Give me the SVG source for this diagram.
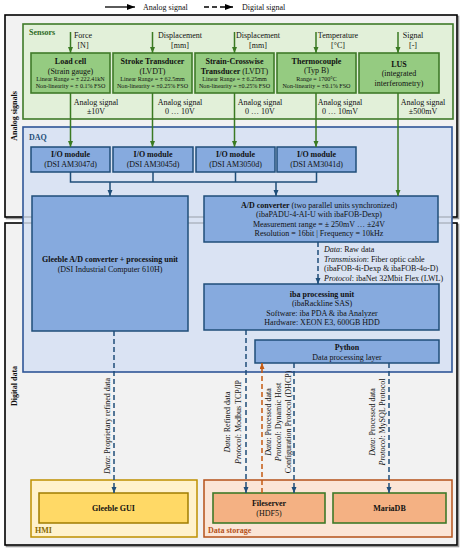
<svg xmlns="http://www.w3.org/2000/svg" width="462" height="550" viewBox="0 0 462 550">
<style>
text{font-family:"Liberation Serif","Times New Roman",serif;font-size:8px;fill:#111}
.c{text-anchor:middle}
.b{font-weight:bold}
.s{font-size:6.1px}
.i{font-style:italic}
.frame{fill:#f2f2f2;stroke:#000;stroke-width:1.6}
.shadow{fill:none;stroke:#9a9a9a;stroke-width:1.6}
.sens{fill:#95cb81;stroke:#3f7a28;stroke-width:1.6}
.blue{fill:#86aade;stroke:#1f4e79;stroke-width:1.5}
.g{stroke:#3a7a22;stroke-width:1.5;fill:none}
.bl{stroke:#1f4e79;stroke-width:1.5;fill:none}
.d{stroke-dasharray:5,3}
.or{stroke:#c55a11;stroke-width:1.5;fill:none;stroke-dasharray:5,3}
</style>
<defs>
<marker id="ag" markerUnits="userSpaceOnUse" markerWidth="6" markerHeight="6" refX="6" refY="2.5" orient="auto"><path d="M0,0 L6,2.5 L0,5 z" fill="#3a7a22"/></marker>
<marker id="ab" markerUnits="userSpaceOnUse" markerWidth="6" markerHeight="6" refX="6" refY="2.5" orient="auto"><path d="M0,0 L6,2.5 L0,5 z" fill="#1f4e79"/></marker>
<marker id="ao" markerUnits="userSpaceOnUse" markerWidth="6" markerHeight="6" refX="6" refY="2.5" orient="auto"><path d="M0,0 L6,2.5 L0,5 z" fill="#c55a11"/></marker>
<marker id="ak" markerUnits="userSpaceOnUse" markerWidth="8" markerHeight="6" refX="8" refY="3" orient="auto"><path d="M0,0 L8,3 L0,6 z" fill="#000"/></marker>
</defs>
<rect width="462" height="550" fill="#fff"/>

<g id="legend">
<line x1="105" y1="7" x2="135" y2="7" stroke="#000" stroke-width="1.3" marker-end="url(#ak)"/>
<text x="143" y="10">Analog signal</text>
<line x1="204" y1="7" x2="233" y2="7" stroke="#000" stroke-width="1.3" stroke-dasharray="5,3" marker-end="url(#ak)"/>
<text x="242" y="10">Digital signal</text>
</g>

<g id="frame-analog">
<rect x="6.5" y="16.5" width="452" height="202" class="shadow"/>
<rect x="5" y="15" width="452" height="202" class="frame"/>
<text class="c b" transform="translate(17,116) rotate(-90)">Analog signals</text>
</g>
<g id="frame-digital">
<rect x="6.5" y="224.5" width="452" height="322" class="shadow"/>
<rect x="5" y="223" width="452" height="322" class="frame"/>
<text class="c b" transform="translate(17,386) rotate(-90)">Digital data</text>
</g>

<g id="sensors">
<rect x="23" y="24" width="430" height="95" fill="#e2f0d9" stroke="#3f7a28" stroke-width="1.6"/>
<text x="29" y="35" class="b" style="fill:#2e6b1f">Sensors</text>
</g>

<g id="daq">
<rect x="23" y="127" width="429" height="245" fill="#dae3f3" stroke="#2f5597" stroke-width="1.6"/>
<path d="M23.8,217 H451.2 M23.8,223 H451.2" stroke="#aeb6c2" stroke-width="1.4" fill="none"/>
<text x="29" y="140" class="b" style="fill:#1f4e79">DAQ</text>
</g>

<g id="load-cell">
<rect x="31" y="53" width="79" height="40" class="sens"/>
<text x="70.5" y="63.5" class="c b">Load cell</text>
<text x="70.5" y="73.5" class="c">(Strain gauge)</text>
<text x="70.5" y="81" class="c s">Linear Range = ± 222.41kN</text>
<text x="70.5" y="88" class="c s">Non-linearity = ± 0.1% FSO</text>
</g>
<g id="stroke-transducer">
<rect x="113" y="53" width="79" height="40" class="sens"/>
<text x="152.5" y="63.5" class="c b">Stroke Transducer</text>
<text x="152.5" y="73.5" class="c">(LVDT)</text>
<text x="152.5" y="81" class="c s">Linear Range = ± 62.5mm</text>
<text x="152.5" y="88" class="c s">Non-linearity = ±0.25% FSO</text>
</g>
<g id="strain-crosswise">
<rect x="195" y="53" width="79" height="40" class="sens"/>
<text x="234.5" y="63.5" class="c b">Strain-Crosswise</text>
<text x="234.5" y="73.5" class="c"><tspan class="b">Transducer</tspan> (LVDT)</text>
<text x="234.5" y="81" class="c s">Linear Range = ± 6.25mm</text>
<text x="234.5" y="88" class="c s">Non-linearity = ±0.25% FSO</text>
</g>
<g id="thermocouple">
<rect x="277" y="53" width="79" height="40" class="sens"/>
<text x="316.5" y="63.5" class="c b">Thermocouple</text>
<text x="316.5" y="73" class="c">(Typ B)</text>
<text x="316.5" y="81" class="c s">Range = 1700°C</text>
<text x="316.5" y="88" class="c s">Non-linearity = ±0.1% FSO</text>
</g>
<g id="lus">
<rect x="359" y="53" width="80" height="40" class="sens"/>
<text x="399" y="66.5" class="c b">LUS</text>
<text x="399" y="76" class="c">(integrated</text>
<text x="399" y="85.5" class="c">interferometry)</text>
</g>

<g id="io1"><rect x="31" y="147" width="79" height="25" class="blue"/>
<text x="70.5" y="157" class="c b">I/O module</text><text x="70.5" y="166.5" class="c">(DSI AM3047d)</text></g>
<g id="io2"><rect x="113" y="147" width="80" height="25" class="blue"/>
<text x="153" y="157" class="c b">I/O module</text><text x="153" y="166.5" class="c">(DSI AM3045d)</text></g>
<g id="io3"><rect x="196" y="147" width="79" height="25" class="blue"/>
<text x="235.5" y="157" class="c b">I/O module</text><text x="235.5" y="166.5" class="c">(DSI AM3050d)</text></g>
<g id="io4"><rect x="277" y="147" width="79" height="25" class="blue"/>
<text x="316.5" y="157" class="c b">I/O module</text><text x="316.5" y="166.5" class="c">(DSI AM3041d)</text></g>

<g id="gleeble">
<rect x="32" y="196" width="156" height="135" class="blue"/>
<text x="110" y="262" class="c b">Gleeble A/D converter + processing unit</text>
<text x="110" y="272" class="c">(DSI Industrial Computer 610H)</text>
</g>
<g id="ad-converter">
<rect x="204" y="196" width="234" height="46" class="blue"/>
<text x="319" y="207.8" class="c"><tspan class="b">A/D converter</tspan> (two parallel units synchronized)</text>
<text x="319" y="216.8" class="c">(ibaPADU-4-AI-U with ibaFOB-Dexp)</text>
<text x="319" y="226.5" class="c">Measurement range = ± 250mV … ±24V</text>
<text x="319" y="236" class="c">Resolution = 16bit | Frequency = 10kHz</text>
</g>
<g id="iba-processing">
<rect x="204" y="284" width="235" height="46" class="blue"/>
<text x="322" y="296.8" class="c b">iba processing unit</text>
<text x="322" y="306" class="c">(ibaRackline SAS)</text>
<text x="322" y="315.5" class="c">Software: iba PDA &amp; iba Analyzer</text>
<text x="322" y="325" class="c">Hardware: XEON E3, 600GB HDD</text>
</g>
<g id="python">
<rect x="255" y="340" width="184" height="23" class="blue"/>
<text x="347" y="349.5" class="c b">Python</text>
<text x="347" y="359.5" class="c">Data processing layer</text>
</g>

<g id="hmi">
<rect x="31" y="480" width="166" height="57" fill="#fff2cc" stroke="#bf9000" stroke-width="1.5"/>
<text x="35" y="533" class="b" style="fill:#8a6a00">HMI</text>
</g>
<g id="gleeble-gui">
<rect x="39" y="493" width="149" height="30" fill="#ffd966" stroke="#a07c00" stroke-width="1.5"/>
<text x="113.5" y="511" class="c b">Gleeble GUI</text>
</g>
<g id="data-storage">
<rect x="204" y="480" width="248" height="57" fill="#fbe5d6" stroke="#b5521a" stroke-width="1.5"/>
<text x="208" y="533" class="b" style="fill:#b5521a">Data storage</text>
</g>
<g id="fileserver">
<rect x="213" y="493" width="112" height="30" fill="#f4b183" stroke="#3f7a28" stroke-width="1.6"/>
<text x="269" y="506" class="c b">Fileserver</text>
<text x="269" y="515.5" class="c">(HDF5)</text>
</g>
<g id="mariadb">
<rect x="333" y="493" width="113" height="30" fill="#f4b183" stroke="#3f7a28" stroke-width="1.6"/>
<text x="389.5" y="510.5" class="c b">MariaDB</text>
</g>

<g id="connectors">
<line x1="70.5" y1="32" x2="70.5" y2="53" class="g" marker-end="url(#ag)"/>
<line x1="152.5" y1="32" x2="152.5" y2="53" class="g" marker-end="url(#ag)"/>
<line x1="234.5" y1="32" x2="234.5" y2="53" class="g" marker-end="url(#ag)"/>
<line x1="316" y1="32" x2="316" y2="53" class="g" marker-end="url(#ag)"/>
<line x1="398" y1="32" x2="398" y2="53" class="g" marker-end="url(#ag)"/>
<text x="83" y="38" class="c">Force</text><text x="83" y="48" class="c">[N]</text>
<text x="180" y="38" class="c">Displacement</text><text x="180" y="48" class="c">[mm]</text>
<text x="258" y="38" class="c">Displacement</text><text x="258" y="48" class="c">[mm]</text>
<text x="338" y="38" class="c">Temperature</text><text x="338" y="48" class="c">[°C]</text>
<text x="413" y="38" class="c">Signal</text><text x="413" y="48" class="c">[-]</text>

<line x1="70.5" y1="93" x2="70.5" y2="147" class="g" marker-end="url(#ag)"/>
<line x1="152.5" y1="93" x2="152.5" y2="147" class="g" marker-end="url(#ag)"/>
<line x1="234.5" y1="93" x2="234.5" y2="147" class="g" marker-end="url(#ag)"/>
<line x1="316" y1="93" x2="316" y2="147" class="g" marker-end="url(#ag)"/>
<line x1="398" y1="93" x2="398" y2="196" class="g" marker-end="url(#ag)"/>
<text x="96" y="104.5" class="c">Analog signal</text><text x="96" y="113.5" class="c">±10V</text>
<text x="180" y="104.5" class="c">Analog signal</text><text x="180" y="113.5" class="c">0 … 10V</text>
<text x="260" y="104.5" class="c">Analog signal</text><text x="260" y="113.5" class="c">0 … 10V</text>
<text x="340" y="104.5" class="c">Analog signal</text><text x="340" y="113.5" class="c">0 … 10mV</text>
<text x="423" y="104.5" class="c">Analog signal</text><text x="423" y="113.5" class="c">±500mV</text>

<path d="M70.5,172 V182 H316.5 V172 M153,172 V182 M235.5,172 V182" class="bl"/>
<line x1="110" y1="182" x2="110" y2="196" class="bl" marker-end="url(#ab)"/>
<line x1="276" y1="182" x2="276" y2="196" class="bl" marker-end="url(#ab)"/>

<line x1="318" y1="242" x2="318" y2="284" class="bl d" marker-end="url(#ab)"/>
<text x="324" y="252"><tspan class="i">Data</tspan>: Raw data</text>
<text x="324" y="261.8"><tspan class="i">Transmission</tspan>: Fiber optic cable</text>
<text x="324" y="271">(ibaFOB-4i-Dexp &amp; ibaFOB-4o-D)</text>
<text x="324" y="280.5"><tspan class="i">Protocol</tspan>: ibaNet 32Mbit Flex (LWL)</text>

<line x1="114" y1="331" x2="114" y2="493" class="bl d" marker-end="url(#ab)"/>
<text class="c" transform="translate(110,426) rotate(-90)"><tspan class="i">Data</tspan>: Proprietary refined data</text>

<line x1="246" y1="330" x2="246" y2="493" class="bl d" marker-end="url(#ab)"/>
<text class="c" transform="translate(229.5,422) rotate(-90)"><tspan class="i">Data</tspan>: Refined data</text>
<text class="c" transform="translate(240.5,422) rotate(-90)"><tspan class="i">Protocol</tspan>: Modbus TCP/IP</text>

<line x1="262" y1="493" x2="262" y2="363" class="or" marker-end="url(#ao)"/>
<text class="c" transform="translate(270.5,422) rotate(-90)"><tspan class="i">Data</tspan>: Processed data</text>
<text class="c" transform="translate(280.5,422) rotate(-90)"><tspan class="i">Protocol</tspan>: Dynamic Host</text>
<text class="c" transform="translate(290.5,422) rotate(-90)">Configuration Protocol (DHCP)</text>

<line x1="294" y1="363" x2="294" y2="493" class="bl d" marker-end="url(#ab)"/>

<line x1="389" y1="363" x2="389" y2="493" class="bl d" marker-end="url(#ab)"/>
<text class="c" transform="translate(374.5,422) rotate(-90)"><tspan class="i">Data</tspan>: Processed data</text>
<text class="c" transform="translate(384.5,422) rotate(-90)"><tspan class="i">Protocol</tspan>: MySQL Protocol</text>
</g>
</svg>
